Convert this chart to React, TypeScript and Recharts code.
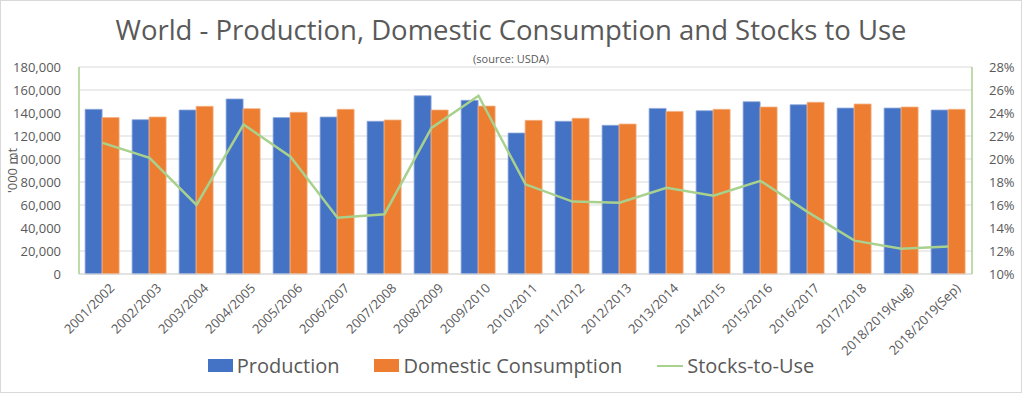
import React from 'react';
import {
  ComposedChart,
  Bar,
  Line,
  XAxis,
  YAxis,
  CartesianGrid,
  Legend
} from 'recharts';

const seasons = [
  '2001/2002', '2002/2003', '2003/2004', '2004/2005', '2005/2006', '2006/2007',
  '2007/2008', '2008/2009', '2009/2010', '2010/2011', '2011/2012', '2012/2013',
  '2013/2014', '2014/2015', '2015/2016', '2016/2017', '2017/2018',
  '2018/2019(Aug)', '2018/2019(Sep)'
];

const production = [
  143200, 134200, 142600, 152200, 136000, 136500, 132800, 155000, 151000, 122600,
  132800, 129300, 144000, 142000, 149800, 147200, 144300, 144300, 142600
];

const consumption = [
  136000, 136500, 145800, 143800, 140600, 143200, 133900, 142600, 146000, 133600,
  135400, 130400, 141400, 143200, 145200, 149300, 147800, 145200, 143200
];

const stocksToUse = [
  0.214, 0.201, 0.160, 0.230, 0.202, 0.149, 0.152, 0.227, 0.255, 0.178,
  0.163, 0.162, 0.175, 0.168, 0.181, 0.154, 0.129, 0.122, 0.124
];

const leftTicks = [0, 20000, 40000, 60000, 80000, 100000, 120000, 140000, 160000, 180000];
const rightTicks = [0.10, 0.12, 0.14, 0.16, 0.18, 0.20, 0.22, 0.24, 0.26, 0.28];

// minor tick marks on both value axes
const leftMinorTicks = Array.from({ length: 46 }, (_, i) => i * 4000);
const rightMinorTicks = Array.from({ length: 46 }, (_, i) => 0.10 + i * 0.004);

const data = seasons.map((season, i) => ({
  season,
  production: production[i],
  consumption: consumption[i],
  stocks: stocksToUse[i]
}));

const FONT = '"Open Sans", sans-serif';
const TEXT = '#595959';
const GREEN = '#a9d18e';

const fmtThousands = (v: number) => v.toLocaleString('en-US');
const fmtPct = (v: number) => `${Math.round(v * 100)}%`;

const SeasonTick = (props: any) => {
  const { x, y, payload } = props;
  return (
    <g transform={`translate(${x},${y})`}>
      <text
        x={0}
        y={0}
        dy={14}
        dx={4}
        textAnchor="end"
        transform="rotate(-45)"
        fill={TEXT}
        fontSize={13}
        fontFamily={FONT}
      >
        {payload.value}
      </text>
    </g>
  );
};

const LegendContent = () => {
  const items = [
    { label: 'Production', color: '#4472c4', type: 'rect' },
    { label: 'Domestic Consumption', color: '#ed7d31', type: 'rect' },
    { label: 'Stocks-to-Use', color: GREEN, type: 'line' }
  ];
  return (
    <div style={{ display: 'flex', justifyContent: 'center', gap: 35, fontFamily: FONT }}>
      {items.map(it => (
        <div key={it.label} style={{ display: 'flex', alignItems: 'center' }}>
          {it.type === 'rect' ? (
            <span style={{ width: 25, height: 13, background: it.color, display: 'inline-block', marginRight: 4 }} />
          ) : (
            <span style={{ width: 26, height: 2, background: it.color, display: 'inline-block', marginRight: 4 }} />
          )}
          <span style={{ fontSize: 20, color: TEXT }}>{it.label}</span>
        </div>
      ))}
    </div>
  );
};

export default function App() {
  return (
    <div
      style={{
        position: 'absolute',
        left: 0,
        top: 0,
        width: 1022,
        height: 393,
        background: '#fff',
        boxSizing: 'border-box',
        border: '1px solid #d9d9d9'
      }}
    >
      <div
        style={{
          position: 'absolute',
          top: 11,
          width: '100%',
          textAlign: 'center',
          fontFamily: FONT,
          fontSize: 27.5,
          color: TEXT,
          lineHeight: '36px'
        }}
      >
        World - Production, Domestic Consumption and Stocks to Use
      </div>
      <div
        style={{
          position: 'absolute',
          top: 50,
          width: '100%',
          textAlign: 'center',
          fontFamily: FONT,
          fontSize: 11,
          color: TEXT,
          lineHeight: '15px'
        }}
      >
        (source: USDA)
      </div>
      <ComposedChart
        width={1020}
        height={391}
        data={data}
        margin={{ top: 66, right: 0, bottom: 0, left: 0 }}
        barCategoryGap="13%"
        barGap={0}
        style={{ position: 'absolute', left: 0, top: 0 }}
      >
        <CartesianGrid yAxisId="left" vertical={false} stroke="#d9d9d9" />
        <XAxis
          dataKey="season"
          interval={0}
          height={78}
          tick={<SeasonTick />}
          tickLine={false}
          axisLine={{ stroke: '#d9d9d9' }}
        />
        <YAxis
          yAxisId="leftMinor"
          orientation="left"
          width={1}
          domain={[0, 180000]}
          ticks={leftMinorTicks}
          tick={() => <g />}
          tickSize={3}
          mirror
          axisLine={{ stroke: GREEN, strokeWidth: 1.5 }}
          tickLine={{ stroke: GREEN }}
        />
        <YAxis
          yAxisId="left"
          orientation="left"
          width={78}
          domain={[0, 180000]}
          ticks={leftTicks}
          tickFormatter={fmtThousands}
          tick={{ fill: TEXT, fontSize: 13, fontFamily: FONT }}
          tickLine={false}
          axisLine={false}
          tickMargin={12}
          label={{
            value: "'000 mt",
            angle: -90,
            position: 'insideLeft',
            offset: 11,
            style: { fill: TEXT, fontSize: 13, fontFamily: FONT, textAnchor: 'middle' }
          }}
        />
        <YAxis
          yAxisId="r1"
          orientation="right"
          width={1}
          domain={[0.1, 0.28]}
          ticks={rightMinorTicks}
          tick={() => <g />}
          tickSize={3}
          axisLine={{ stroke: GREEN, strokeWidth: 1.5 }}
          tickLine={{ stroke: GREEN }}
        />
        <YAxis
          yAxisId="r2"
          orientation="right"
          width={48}
          domain={[0.1, 0.28]}
          ticks={rightTicks}
          tickFormatter={fmtPct}
          tick={{ fill: TEXT, fontSize: 13, fontFamily: FONT }}
          tickLine={false}
          axisLine={false}
          tickMargin={10}
        />
        <Bar
          yAxisId="left"
          dataKey="production"
          name="Production"
          fill="#4472c4"
          stroke="#8faadc"
          strokeWidth={0.8}
          isAnimationActive={false}
        />
        <Bar
          yAxisId="left"
          dataKey="consumption"
          name="Domestic Consumption"
          fill="#ed7d31"
          stroke="#f4b183"
          strokeWidth={0.8}
          isAnimationActive={false}
        />
        <Line
          yAxisId="r2"
          dataKey="stocks"
          name="Stocks-to-Use"
          type="linear"
          stroke={GREEN}
          strokeWidth={2.5}
          dot={false}
          isAnimationActive={false}
        />
        <Legend verticalAlign="bottom" height={40} content={<LegendContent />} />
      </ComposedChart>
    </div>
  );
}
